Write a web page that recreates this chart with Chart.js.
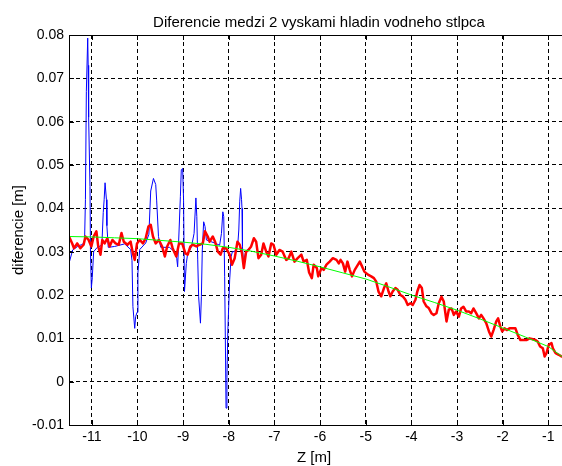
<!DOCTYPE html>
<html><head><meta charset="utf-8">
<script src="https://cdn.jsdelivr.net/npm/chart.js@4.4.0/dist/chart.umd.min.js"></script>
<style>html,body{margin:0;padding:0;background:#fff;overflow:hidden}</style></head>
<body><canvas id="c" width="562" height="466"></canvas>
<script>
const titleText = 'Diferencie medzi 2 vyskami hladin vodneho stlpca';
const xLabel = 'Z [m]';
const yLabel = 'diferencie [m]';
const xTicks = [-11,-10,-9,-8,-7,-6,-5,-4,-3,-2,-1];
const xTickLabels = ['-11','-10','-9','-8','-7','-6','-5','-4','-3','-2','-1'];
const yTicks = [-0.01,0,0.01,0.02,0.03,0.04,0.05,0.06,0.07,0.08];
const yTickLabels = ['-0.01','0','0.01','0.02','0.03','0.04','0.05','0.06','0.07','0.08'];
const xRange = [-11.5, -0.7];
const yRange = [-0.01, 0.08];

const blueX = [-11.50,-11.42,-11.31,-11.23,-11.16,-11.14,-11.12,-11.09,-11.08,-11.07,
-11.04,-11.03,-11.01,-10.99,-10.96,-10.88,-10.78,-10.75,-10.73,-10.71,
-10.68,-10.67,-10.64,-10.50,-10.28,-10.15,-10.12,-10.10,-10.06,-10.04,
-10.01,-9.99,-9.95,-9.82,-9.75,-9.71,-9.65,-9.60,-9.58,-9.54,
-9.49,-9.30,-9.19,-9.14,-9.12,-9.06,-9.04,-9.01,-8.99,-8.97,
-8.93,-8.90,-8.82,-8.76,-8.72,-8.70,-8.68,-8.66,-8.62,-8.60,
-8.58,-8.55,-8.52,-8.49,-8.31,-8.20,-8.16,-8.13,-8.11,-8.09,
-8.07,-8.06,-8.04,-8.02,-7.98,-7.95,-7.92,-7.87,-7.80,-7.78,
-7.76,-7.74,-7.72,-7.71,-7.70,-7.68,-7.63,-7.55];
const blueY = [0.0273,0.0304,0.0312,0.0316,0.0320,0.0420,0.0670,0.0793,0.0730,0.0610,
0.0450,0.0300,0.0216,0.0240,0.0300,0.0310,0.0315,0.0390,0.0420,0.0459,
0.0420,0.0360,0.0310,0.0312,0.0318,0.0305,0.0280,0.0173,0.0123,0.0150,
0.0160,0.0251,0.0305,0.0320,0.0340,0.0440,0.0469,0.0455,0.0419,0.0335,
0.0310,0.0310,0.0300,0.0285,0.0265,0.0427,0.0489,0.0492,0.0419,0.0208,
0.0273,0.0296,0.0310,0.0342,0.0424,0.0381,0.0281,0.0196,0.0135,0.0196,
0.0304,0.0369,0.0358,0.0327,0.0320,0.0315,0.0342,0.0392,0.0381,0.0242,
0.0050,-0.0061,0.0010,0.0119,0.0235,0.0288,0.0300,0.0300,0.0320,0.0350,
0.0415,0.0446,0.0420,0.0400,0.0312,0.0275,0.0300,0.0308];

const redX = [-11.50,-11.43,-11.39,-11.32,-11.25,-11.18,-11.14,-11.07,-11.01,-10.96,
-10.90,-10.86,-10.81,-10.77,-10.72,-10.66,-10.61,-10.55,-10.48,-10.41,
-10.35,-10.30,-10.22,-10.15,-10.10,-10.06,-10.01,-9.95,-9.88,-9.82,
-9.76,-9.71,-9.66,-9.60,-9.53,-9.46,-9.40,-9.35,-9.28,-9.23,
-9.15,-9.09,-9.02,-8.95,-8.90,-8.84,-8.79,-8.71,-8.64,-8.57,
-8.52,-8.46,-8.42,-8.35,-8.30,-8.24,-8.18,-8.13,-8.06,-7.98,
-7.93,-7.87,-7.81,-7.76,-7.71,-7.67,-7.62,-7.57,-7.51,-7.45,
-7.40,-7.35,-7.29,-7.24,-7.18,-7.13,-7.07,-7.02,-6.96,-6.89,
-6.82,-6.74,-6.69,-6.63,-6.56,-6.49,-6.41,-6.36,-6.29,-6.24,
-6.18,-6.14,-6.07,-6.04,-5.97,-5.92,-5.86,-5.79,-5.72,-5.64,
-5.59,-5.55,-5.50,-5.45,-5.40,-5.35,-5.30,-5.24,-5.17,-5.13,
-5.08,-5.03,-4.95,-4.88,-4.82,-4.77,-4.72,-4.66,-4.60,-4.55,
-4.50,-4.46,-4.41,-4.35,-4.30,-4.24,-4.19,-4.13,-4.08,-4.02,
-3.97,-3.91,-3.87,-3.82,-3.77,-3.73,-3.67,-3.62,-3.56,-3.51,
-3.45,-3.40,-3.34,-3.29,-3.23,-3.18,-3.12,-3.07,-3.02,-2.96,
-2.91,-2.86,-2.80,-2.74,-2.69,-2.64,-2.58,-2.52,-2.47,-2.42,
-2.36,-2.30,-2.25,-2.20,-2.14,-2.10,-2.05,-2.01,-1.96,-1.91,
-1.85,-1.79,-1.72,-1.67,-1.61,-1.56,-1.48,-1.41,-1.34,-1.28,
-1.23,-1.18,-1.12,-1.08,-1.04,-0.99,-0.93,-0.90,-0.84,-0.77,-0.71];
const redY = [0.0335,0.0319,0.0308,0.0319,0.0308,0.0316,0.0335,0.0327,0.0312,0.0335,
0.0347,0.0312,0.0293,0.0327,0.0319,0.0331,0.0312,0.0327,0.0319,0.0316,
0.0343,0.0323,0.0316,0.0323,0.0296,0.0281,0.0319,0.0327,0.0319,0.0331,
0.0358,0.0362,0.0335,0.0319,0.0327,0.0312,0.0289,0.0312,0.0327,0.0308,
0.0289,0.0319,0.0319,0.0296,0.0293,0.0312,0.0316,0.0312,0.0316,0.0319,
0.0347,0.0335,0.0323,0.0335,0.0323,0.0300,0.0293,0.0308,0.0308,0.0293,
0.0270,0.0285,0.0323,0.0316,0.0296,0.0262,0.0300,0.0304,0.0312,0.0331,
0.0323,0.0285,0.0293,0.0319,0.0300,0.0289,0.0319,0.0316,0.0293,0.0304,
0.0300,0.0281,0.0285,0.0300,0.0277,0.0285,0.0293,0.0277,0.0281,0.0252,
0.0239,0.0270,0.0262,0.0243,0.0262,0.0258,0.0270,0.0277,0.0285,0.0281,
0.0273,0.0281,0.0273,0.0254,0.0277,0.0258,0.0243,0.0258,0.0270,0.0277,
0.0266,0.0254,0.0247,0.0243,0.0239,0.0231,0.0208,0.0197,0.0216,0.0227,
0.0208,0.0197,0.0208,0.0216,0.0212,0.0200,0.0197,0.0189,0.0177,0.0181,
0.0177,0.0189,0.0208,0.0223,0.0216,0.0185,0.0174,0.0170,0.0158,0.0154,
0.0158,0.0181,0.0196,0.0185,0.0139,0.0166,0.0169,0.0154,0.0162,0.0150,
0.0169,0.0173,0.0162,0.0162,0.0158,0.0169,0.0158,0.0146,0.0154,0.0146,
0.0135,0.0116,0.0104,0.0119,0.0139,0.0146,0.0127,0.0116,0.0123,0.0119,
0.0123,0.0123,0.0123,0.0108,0.0096,0.0096,0.0096,0.0100,0.0098,0.0096,
0.0092,0.0081,0.0077,0.0058,0.0066,0.0085,0.0089,0.0077,0.0066,0.0062,0.0058];

const greenX = [-11.5,-11,-10.5,-10,-9.5,-9,-8.5,-8,-7.5,-7,-6.5,-6,-5.5,-5,-4.5,-4,-3.5,-3,-2.5,-2,-1.5,-1,-0.7];
const greenY = [0.0335,0.0334,0.0332,0.0330,0.0326,0.0322,0.0317,0.0310,0.0301,0.0290,0.0278,0.0265,0.0251,0.0237,0.0219,0.0200,0.0183,0.0165,0.0145,0.0124,0.0103,0.0081,0.0058];

function zip(xs, ys) {
  const n = Math.min(xs.length, ys.length), out = [];
  for (let i = 0; i < n; i++) out.push({x: xs[i], y: ys[i]});
  return out;
}

const FONT = "'Liberation Sans', Arial, sans-serif";

const decor = {
  id: 'decor',
  afterDatasetsDraw(chart) {
    const ctx = chart.ctx, a = chart.chartArea;
    const xs = chart.scales.x, ys = chart.scales.y;
    ctx.save();
    ctx.strokeStyle = '#000';
    ctx.lineWidth = 1;
    ctx.setLineDash([]);
    ctx.beginPath();
    ctx.moveTo(a.left + 0.5, a.top + 0.5);
    ctx.lineTo(a.left + 0.5, a.bottom + 0.5);
    ctx.lineTo(a.right, a.bottom + 0.5);
    ctx.moveTo(a.left + 0.5, a.top + 0.5);
    ctx.lineTo(a.right, a.top + 0.5);
    const tl = 5;
    xTicks.forEach(v => {
      const px = Math.round(xs.getPixelForValue(v)) + 0.5;
      ctx.moveTo(px, a.bottom); ctx.lineTo(px, a.bottom - tl);
      ctx.moveTo(px, a.top); ctx.lineTo(px, a.top + tl);
    });
    yTicks.forEach(v => {
      const py = Math.round(ys.getPixelForValue(v)) + 0.5;
      ctx.moveTo(a.left, py); ctx.lineTo(a.left + tl, py);
    });
    ctx.stroke();
    ctx.restore();
  },
  afterDraw(chart) {
    const ctx = chart.ctx;
    ctx.save();
    ctx.fillStyle = '#000';
    ctx.font = '15px ' + FONT;
    ctx.textAlign = 'center';
    ctx.textBaseline = 'alphabetic';
    ctx.fillText(titleText, 319, 27);
    ctx.fillText(xLabel, 314, 462);
    ctx.translate(22.5, 230);
    ctx.rotate(-Math.PI / 2);
    ctx.fillText(yLabel, 0, 0);
    ctx.restore();
  }
};

new Chart(document.getElementById('c'), {
  type: 'line',
  data: {
    datasets: [
      {label: 'fit', data: zip(greenX, greenY), borderColor: '#00ff00', borderWidth: 1, pointRadius: 0, tension: 0, order: 0},
      {label: 'smooth', data: zip(redX, redY), borderColor: '#ff0000', borderWidth: 2.5, borderJoinStyle: 'round', borderCapStyle: 'round', pointRadius: 0, tension: 0, order: 1},
      {label: 'raw', data: zip(blueX, blueY), borderColor: '#0000ff', borderWidth: 1, pointRadius: 0, tension: 0, order: 2}
    ]
  },
  options: {
    responsive: false,
    animation: false,
    devicePixelRatio: 1,
    layout: {padding: {top: 35, left: 0, right: 0, bottom: 0}},
    plugins: {legend: {display: false}, tooltip: {enabled: false}, title: {display: false}},
    scales: {
      x: {
        type: 'linear', position: 'bottom', min: xRange[0], max: xRange[1],
        afterBuildTicks: s => { s.ticks = xTicks.map(v => ({value: v})); },
        afterFit: s => { s.height = 41; },
        ticks: {
          font: {family: FONT, size: 14}, color: '#000', padding: 4, maxRotation: 0, autoSkip: false,
          callback: v => { const i = xTicks.indexOf(v); return i >= 0 ? xTickLabels[i] : ''; }
        },
        grid: {color: '#000', lineWidth: 1, drawTicks: false},
        border: {display: false, dash: [4, 3]}
      },
      y: {
        type: 'linear', position: 'left', min: yRange[0], max: yRange[1],
        afterBuildTicks: s => { s.ticks = yTicks.map(v => ({value: v})); },
        afterFit: s => { s.width = 69; },
        ticks: {
          font: {family: FONT, size: 14}, color: '#000', padding: 5,
          callback: v => { let best = 0; yTicks.forEach((t, i) => { if (Math.abs(t - v) < Math.abs(yTicks[best] - v)) best = i; }); return yTickLabels[best]; }
        },
        grid: {color: '#000', lineWidth: 1, drawTicks: false},
        border: {display: false, dash: [4, 3]}
      }
    }
  },
  plugins: [decor]
});
</script>
</body></html>
